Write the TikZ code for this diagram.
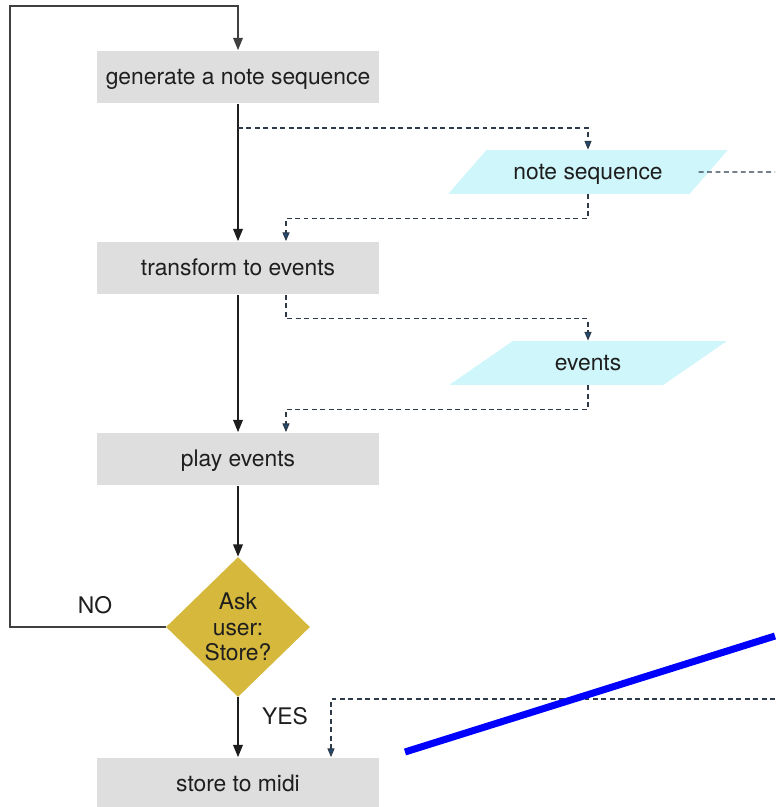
\documentclass[tikz,border=0pt]{standalone}
\usepackage{fontspec}
\setmainfont{TeX Gyre Heros}
\usetikzlibrary{arrows.meta,calc,positioning,shapes.geometric}
\definecolor{StepGray}{HTML}{DEDEDE}
\definecolor{DataCyan}{HTML}{CFF6FA}
\definecolor{AskGold}{HTML}{D5B83C}
\definecolor{FlowInk}{HTML}{1E1E1E}
\definecolor{DataLine}{HTML}{2E3A48}
\definecolor{DataTip}{HTML}{1F4F7F}
\definecolor{MarkBlue}{HTML}{0000FF}

\begin{document}
\begin{tikzpicture}[x=0.02cm,y=-0.02cm,
          font=\fontsize{13}{15}\selectfont,text=FlowInk,
          stepbox/.style={fill=StepGray,minimum width=5.64cm,
            minimum height=1.06cm,inner sep=0pt,text height=11pt,
            text depth=2pt},
          databox/.style={trapezium,fill=DataCyan,trapezium stretches=true,
            trapezium left angle=39,trapezium right angle=141,
            minimum width=5.6cm,minimum height=0.88cm,inner sep=0pt,
            text height=11pt,text depth=2pt},
          askbox/.style={diamond,fill=AskGold,minimum width=2.88cm,
            minimum height=2.8cm,inner sep=0pt,align=center,
            font=\fontsize{13}{14.7}\selectfont},
          flow/.style={-{Triangle[length=7pt,width=5.5pt]},line width=0.9pt,
            draw=FlowInk},
          loopline/.style={-{Triangle[length=7pt,width=5.5pt]},line width=0.8pt,
            draw=FlowInk!85},
          dataflow/.style={-{Triangle[length=5pt,width=4pt,fill=DataTip]},
            draw=DataLine,line width=0.7pt,dash pattern=on 2.8pt off 2pt}]
        \useasboundingbox (0,0) rectangle (775,807);

        % main steps
        \node[stepbox] (gen) at (238,77) {generate a note sequence};
        \node[stepbox] (trans) at (238,268) {transform to events};
        \node[stepbox] (play) at (238,459) {play events};
        \node[askbox] (ask) at (238,627) {Ask\\user:\\Store?};
        \node[stepbox] (store) at (238,784) {store to midi};

        % data
        \node[databox] (seqdata) at (588,172) {note sequence};
        \node[databox] (evdata) at (588,363) {events};

        \coordinate (loopcorner) at (10,6);
        \coordinate (tapgen) at (238,128);
        \coordinate (outseq) at (775,172);
        \coordinate (instore) at (775,699);

        \draw[flow] (gen) -- (trans);
        \draw[flow] (trans) -- (play);
        \draw[flow] (play) -- (ask);
        \draw[flow] (ask) -- (store);
        \draw[loopline] (ask.west) -| (loopcorner) -| (gen.north);

        \node (no) at (95,605) {NO};
        \node (yes) at (285,716) {YES};

        \draw[dataflow] (tapgen) -| (seqdata.north);
        \draw[dataflow] (seqdata.south) -- ++(0,24)
          -| ($(trans.north)+(48,0)$);
        \draw[dataflow] ($(trans.south)+(48,0)$) -- ++(0,24)
          -| (evdata.north);
        \draw[dataflow] (evdata.south) -- ++(0,24)
          -| ($(play.north)+(48,0)$);
        \draw[dataflow,-] ([xshift=-6pt]seqdata.east) -- (outseq);
        \draw[dataflow] (instore) -| ($(store.north)+(93,0)$);

        % stroke on top of the scan
        \draw[MarkBlue,line width=4pt] (405,752) -- (775,636);
      \end{tikzpicture}
\end{document}
